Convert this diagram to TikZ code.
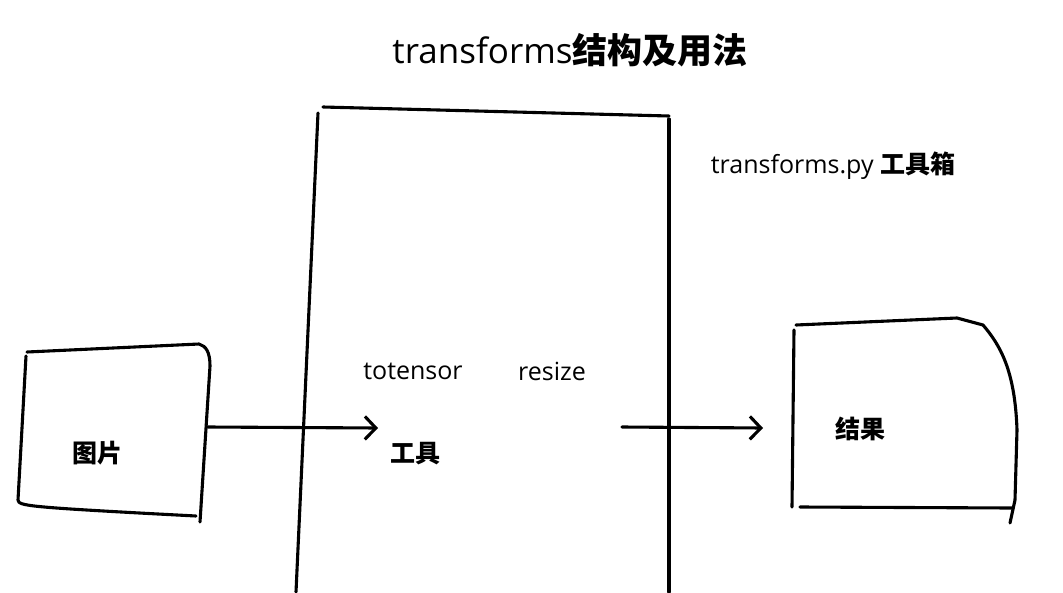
\documentclass[tikz,border=0pt]{standalone}
\usepackage{fontspec}
\setmainfont{Open Sans}
\newfontfamily\cjk{Noto Sans CJK SC}
\usetikzlibrary{arrows.meta}
\tikzset{
  pen/.style={line width=3.1pt, line cap=round, line join=round},
  barb/.style={pen, -{Straight Barb[length=11pt,width=23pt]}},
  hand/.style={inner sep=0pt, font=\fontsize{25}{28}\selectfont},
  han/.style={inner sep=0pt, font=\fontsize{25}{28}\selectfont\cjk\bfseries}
}
\begin{document}
\begin{tikzpicture}[x=1pt,y=-1pt]
    \useasboundingbox (0,0) rectangle (1063,592);
    % title and side label
    \node[hand, font=\fontsize{35}{40}\selectfont] (title) at (570,50) {transforms{\cjk\bfseries 结构及用法}};
    \node[hand] (lib) at (833,166) {transforms.py {\cjk\bfseries 工具箱}};
    % input picture
    \draw[pen] (27,352) -- (199,344) .. controls (206,346) and (210,352) .. (210,366) -- (200,522);
    \draw[pen] (26,356) -- (18,500) .. controls (19,506) and (24,507) .. (196,516);
    \node[han] (pic) at (97,453) {图片};
    % toolbox
    \draw[pen] (323,107) -- (669,116);
    \draw[pen] (318,113) -- (296,592);
    \draw[pen] (669,119) -- (669,592);
    \node[hand] (tt) at (413,371) {totensor};
    \node[hand] (rs) at (552,371) {resize};
    \node[han] (tool) at (415,454) {工具};
    % result
    \draw[pen] (796,325) -- (957,318) -- (983,325) .. controls (1000,345) and (1015,370) .. (1017,430) -- (1015,500) -- (1010,523);
    \draw[pen] (794,330) -- (792,507);
    \draw[pen] (800,507) -- (1012,508);
    \node[han] (res) at (860,429) {结果};
    % arrows
    \coordinate (a1) at (208,427); \coordinate (b1) at (378,428);
    \coordinate (a2) at (622,427); \coordinate (b2) at (763,428);
    \draw[barb] (a1) -- (b1);
    \draw[barb] (a2) -- (b2);
\end{tikzpicture}
\end{document}
